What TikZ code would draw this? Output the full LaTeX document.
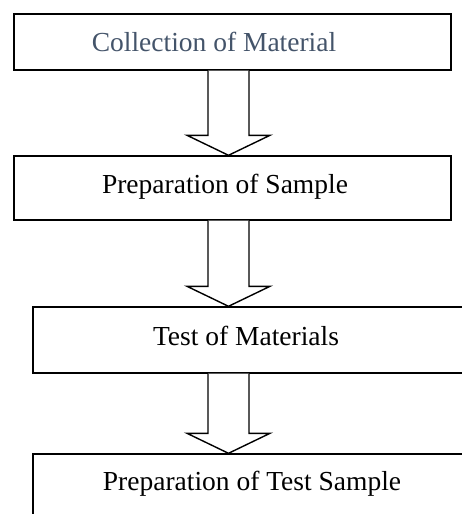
\documentclass[tikz,border=0pt]{standalone}
\usepackage{fontspec}
\setmainfont{Liberation Serif}
\usetikzlibrary{calc}
\definecolor{slate}{HTML}{44546A}

\begin{document}
\begin{tikzpicture}
        [x=1pt, y=-1pt,
        box/.style={draw, line width=1.4pt, rectangle, inner sep=0pt},
        label/.style={anchor=base, font=\fontsize{27.5}{32}\selectfont},
        blockarrow/.style={draw, line width=1.4pt, line join=miter, fill=white}]

        \useasboundingbox (0,0) rectangle (462,514);
        \clip (0,0) rectangle (462,514);

        % boxes
        \node[box, minimum width=437pt, minimum height=56pt] (coll) at (232.5,42) {};
        \node[box, minimum width=437pt, minimum height=64pt] (prep) at (232.5,188) {};
        \node[box, minimum width=442pt, minimum height=66pt] (test) at (254,340) {};
        \node[box, minimum width=442pt, minimum height=76pt] (final) at (254,492) {};

        % texts
        \node[label, text=slate] (tcoll) at (214,51) {Collection of Material};
        \node[label] (tprep) at (225,193) {Preparation of Sample};
        \node[label] (ttest) at (246,345) {Test of Materials};
        \node[label] (tfinal) at (252,490) {Preparation of Test Sample};

        % block arrows
        \coordinate (mid) at (228.5,0);
        \foreach \from/\to in {coll/prep, prep/test, test/final}
        {
            \path (mid |- \from.south) coordinate (s) (mid |- \to.north) coordinate (t);
            \draw[blockarrow] ($(s)+(-20.5,0)$) -- ($(t)+(-20.5,-20)$) -- ($(t)+(-41.5,-20)$)
                -- (t) -- ($(t)+(41.5,-20)$) -- ($(t)+(20.5,-20)$) -- ($(s)+(20.5,0)$);
        }

\end{tikzpicture}
\end{document}
